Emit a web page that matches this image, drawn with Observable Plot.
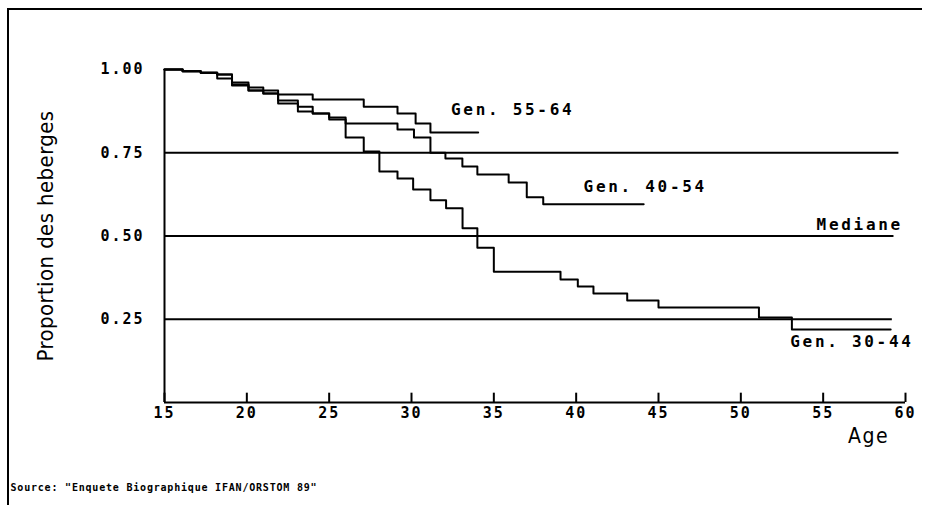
<!DOCTYPE html>
<html><head><meta charset="utf-8">
<script src="https://cdn.jsdelivr.net/npm/d3@7"></script>
<script src="https://cdn.jsdelivr.net/npm/@observablehq/plot@0.6"></script>
<style>
html,body{margin:0;background:#fff;overflow:hidden;}
#wrap{position:relative;width:929px;height:505px;overflow:hidden;background:#fff;}
#frame{position:absolute;left:7px;top:8px;width:915px;height:497px;border-left:2px solid #000;border-top:2px solid #000;box-sizing:border-box;}
#chart{position:absolute;left:0;top:0;}
#chart svg text{letter-spacing:2px;}
#chart svg g[font-size="16"] text{letter-spacing:2.7px;}
#chart svg g[font-size="22"] text{letter-spacing:0.4px;}
#chart svg g[font-size="21"] text{letter-spacing:1.5px;}
#chart svg g[font-size="10"] text{letter-spacing:0.8px;}
</style></head>
<body><div id="wrap"><div id="frame"></div><div id="chart"></div></div>
<script>
// Gen. 55-64 (step-after, ages where proportion changes)
const ages5564 = [15, 16.1, 17.2, 18.2, 19.1, 20.1, 21.0, 21.9, 24.0, 27.1, 29.15, 30.25, 31.15, 34.05];
const vals5564 = [1.00, 0.995, 0.99, 0.985, 0.961, 0.946, 0.937, 0.925, 0.91, 0.888, 0.868, 0.838, 0.811, 0.811];
// Gen. 40-54
const ages4054 = [15, 16.1, 17.2, 18.2, 19.1, 20.1, 21.0, 21.9, 23.1, 24.0, 25.0, 26.0, 29.15, 30.15, 31.15, 32.06, 33.09, 34.0, 35.9, 37.0, 38.0, 44.1];
const vals4054 = [1.00, 0.995, 0.99, 0.985, 0.955, 0.937, 0.928, 0.907, 0.888, 0.868, 0.856, 0.838, 0.82, 0.796, 0.75, 0.733, 0.709, 0.685, 0.661, 0.616, 0.595, 0.595];
// Gen. 30-44
const ages3044 = [15, 16.1, 17.2, 18.2, 19.1, 20.1, 21.0, 21.9, 23.1, 24.0, 25.0, 26.0, 27.1, 28.05, 29.15, 30.1, 31.15, 32.1, 33.1, 34.0, 35.0, 39.05, 40.1, 41.05, 43.1, 45.0, 51.1, 53.1, 59.1];
const vals3044 = [1.00, 0.995, 0.99, 0.973, 0.952, 0.937, 0.928, 0.898, 0.874, 0.868, 0.85, 0.796, 0.754, 0.694, 0.673, 0.64, 0.607, 0.583, 0.523, 0.465, 0.393, 0.369, 0.348, 0.327, 0.306, 0.285, 0.255, 0.219, 0.219];

const seriesNames = ["Gen. 55-64", "Gen. 40-54", "Gen. 30-44"];
const seriesAges = [ages5564, ages4054, ages3044];
const seriesVals = [vals5564, vals4054, vals3044];

// reference lines (quartiles / median)
const refLevels = [0.75, 0.50, 0.25];
const refEnds = [59.6, 59.3, 59.2];

const xTicks = [15, 20, 25, 30, 35, 40, 45, 50, 55, 60];
const yTicks = [0.25, 0.50, 0.75, 1.00];

// in-chart labels
const labelText = ["Gen. 55-64", "Gen. 40-54", "Gen. 30-44", "Mediane"];
const labelAge = [32.4, 40.45, 53.0, 54.6];
const labelVal = [0.88, 0.649, 0.183, 0.532];

const yTitle = "Proportion des heberges";
const xTitle = "Age";
const sourceText = "Source: \"Enquete Biographique IFAN/ORSTOM 89\"";

const rows = seriesNames.flatMap((g, k) => seriesAges[k].map((a, i) => ({gen: g, age: a, val: seriesVals[k][i]})));
const refRows = refLevels.map((v, i) => ({v, end: refEnds[i]}));
const labelRows = labelText.map((t, i) => ({t, x: labelAge[i], y: labelVal[i]}));

const mono = "'DejaVu Sans Mono', monospace";
const cond = "'DejaVu Sans Condensed', 'Liberation Sans Narrow', sans-serif";

const chart = Plot.plot({
  width: 929, height: 505,
  marginLeft: 164, marginRight: 24, marginTop: 69, marginBottom: 103,
  x: {domain: [15, 60]},
  y: {domain: [0, 1]},
  style: {fontFamily: mono, background: "transparent", color: "#000", overflow: "visible"},
  marks: [
    Plot.ruleY(refRows, {y: "v", x1: 15, x2: "end", stroke: "#000", strokeWidth: 2}),
    Plot.ruleX([15], {y1: 0, y2: 1, stroke: "#000", strokeWidth: 2}),
    Plot.ruleY([0], {x1: 15, x2: 60, stroke: "#000", strokeWidth: 2}),
    Plot.ruleX(xTicks, {y1: 0, y2: 0.028, stroke: "#000", strokeWidth: 2}),
    Plot.line(rows, {x: "age", y: "val", z: "gen", curve: "step-after", stroke: "#000", strokeWidth: 2}),
    Plot.axisX({ticks: xTicks, tickSize: 0, tickPadding: 5, label: null, fontSize: 15, fontWeight: "bold", fontFamily: mono}),
    Plot.axisY({ticks: yTicks, tickFormat: d3.format(".2f"), tickSize: 0, tickPadding: 20, label: null, fontSize: 15, fontWeight: "bold", fontFamily: mono}),
    Plot.text(labelRows, {x: "x", y: "y", text: "t", textAnchor: "start", fontSize: 16, fontWeight: "bold", fontFamily: mono, fill: "#000"}),
    Plot.text([yTitle], {frameAnchor: "left", textAnchor: "middle", dx: -119, rotate: -90, fontSize: 22, fontFamily: cond, fill: "#000"}),
    Plot.text([xTitle], {frameAnchor: "bottom-right", textAnchor: "middle", dx: -37, dy: 40, fontSize: 21, fontFamily: cond, fill: "#000"}),
    Plot.text([sourceText], {frameAnchor: "bottom-left", dx: -154, dy: 88, textAnchor: "start", fontSize: 10, fontWeight: "bold", fontFamily: mono, fill: "#000"})
  ]
});
document.getElementById("chart").appendChild(chart);
</script>
</body></html>
